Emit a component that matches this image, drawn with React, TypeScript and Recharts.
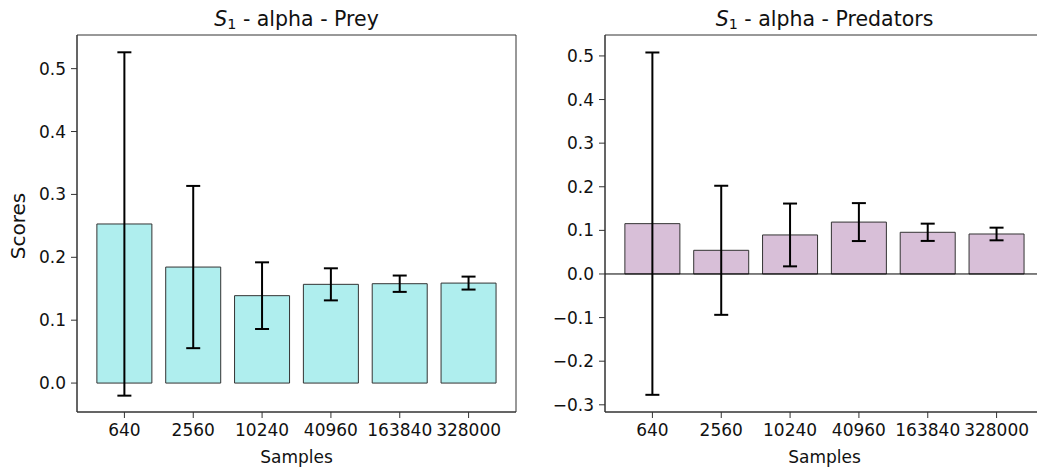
import React from 'react';
import { BarChart, Bar, XAxis, YAxis, ErrorBar, ReferenceLine, CartesianGrid } from 'recharts';

const samples = ['640', '2560', '10240', '40960', '163840', '328000'];

const preyScores = [0.253, 0.1845, 0.139, 0.157, 0.158, 0.159];
const preyErrors = [0.273, 0.129, 0.053, 0.0255, 0.013, 0.0103];

const predScores = [0.1154, 0.0543, 0.0895, 0.119, 0.0956, 0.0917];
const predErrors = [0.3925, 0.148, 0.072, 0.0435, 0.0198, 0.0145];

const preyTicks = [0, 0.1, 0.2, 0.3, 0.4, 0.5];
const predTicks = [-0.3, -0.2, -0.1, 0, 0.1, 0.2, 0.3, 0.4, 0.5];

const FONT = '"DejaVu Sans", sans-serif';
const AXIS = '#333';

const fmt = (v: number) => v.toFixed(1).replace('-', '\u2212');

type PanelProps = {
  scores: number[];
  errors: number[];
  ticks: number[];
  domain: [number, number];
  fill: string;
  width: number;
  marginLeft: number;
  marginRight: number;
  yWidth: number;
  zeroLine?: boolean;
};

const Panel = ({ scores, errors, ticks, domain, fill, width, marginLeft, marginRight, yWidth, zeroLine }: PanelProps) => {
  const data = samples.map((s, i) => ({ sample: s, score: scores[i], err: errors[i] }));
  return (
    <BarChart
      width={width}
      height={470}
      data={data}
      margin={{ top: 35, right: marginRight, bottom: 0, left: marginLeft }}
      barCategoryGap="10%"
      style={{ fontFamily: FONT }}
    >
      {/* box around the plot area, like matplotlib spines */}
      <CartesianGrid
        stroke={AXIS}
        horizontalCoordinatesGenerator={({ offset }: any) => [offset.top, offset.top + offset.height]}
        verticalCoordinatesGenerator={({ offset }: any) => [offset.left, offset.left + offset.width]}
      />
      <XAxis
        dataKey="sample"
        height={58}
        interval={0}
        padding={{ left: 13, right: 13 }}
        tickSize={6}
        tickMargin={6}
        tick={{ fontSize: 17, fill: '#111' }}
        tickLine={{ stroke: AXIS }}
        axisLine={{ stroke: AXIS }}
        label={{ value: 'Samples', position: 'insideBottom', offset: 7, fontSize: 17, fill: '#111' }}
      />
      <YAxis
        type="number"
        domain={domain}
        ticks={ticks}
        allowDataOverflow
        width={yWidth}
        tickSize={6}
        tickMargin={5}
        tickFormatter={fmt}
        tick={{ fontSize: 17, fill: '#111' }}
        tickLine={{ stroke: AXIS }}
        axisLine={{ stroke: AXIS }}
      />
      {zeroLine && <ReferenceLine y={0} stroke="#000" strokeWidth={1} />}
      <Bar dataKey="score" fill={fill} stroke="#333" strokeWidth={1} isAnimationActive={false}>
        <ErrorBar dataKey="err" width={7} stroke="#000" strokeWidth={2} isAnimationActive={false} />
      </Bar>
    </BarChart>
  );
};

const Title = ({ text, left }: { text: string; left: number }) => (
  <div
    style={{
      position: 'absolute',
      left,
      top: 8.5,
      width: 439,
      textAlign: 'center',
      fontFamily: FONT,
      fontSize: 20.5,
      lineHeight: '20px',
      color: '#111',
      whiteSpace: 'nowrap',
    }}
  >
    <span style={{ fontStyle: 'italic' }}>S</span>
    <span style={{ fontSize: '0.7em', position: 'relative', top: '0.25em' }}>1</span>
    {' - alpha - ' + text}
  </div>
);

export default function App() {
  return (
    <div
      style={{
        position: 'absolute',
        left: 0,
        top: 0,
        width: 1037,
        height: 470,
        overflow: 'hidden',
        background: '#fff',
      }}
    >
      <div style={{ position: 'absolute', left: 0, top: 0 }}>
        <Panel
          scores={preyScores}
          errors={preyErrors}
          ticks={preyTicks}
          domain={[-0.046, 0.5535]}
          fill="#afeeee"
          width={520}
          marginLeft={17}
          marginRight={4}
          yWidth={60}
        />
      </div>
      <div style={{ position: 'absolute', left: 520, top: 0 }}>
        <Panel
          scores={predScores}
          errors={predErrors}
          ticks={predTicks}
          domain={[-0.3165, 0.548]}
          fill="#d8bfd8"
          width={530}
          marginLeft={20}
          marginRight={6}
          yWidth={65}
          zeroLine
        />
      </div>
      <Title text="Prey" left={77} />
      <Title text="Predators" left={605} />
      <div
        style={{
          position: 'absolute',
          left: 19.4,
          top: 225.5,
          transform: 'translate(-50%, -50%) rotate(-90deg)',
          fontFamily: FONT,
          fontSize: 20,
          lineHeight: 1.164,
          color: '#111',
          whiteSpace: 'nowrap',
        }}
      >
        Scores
      </div>
    </div>
  );
}
